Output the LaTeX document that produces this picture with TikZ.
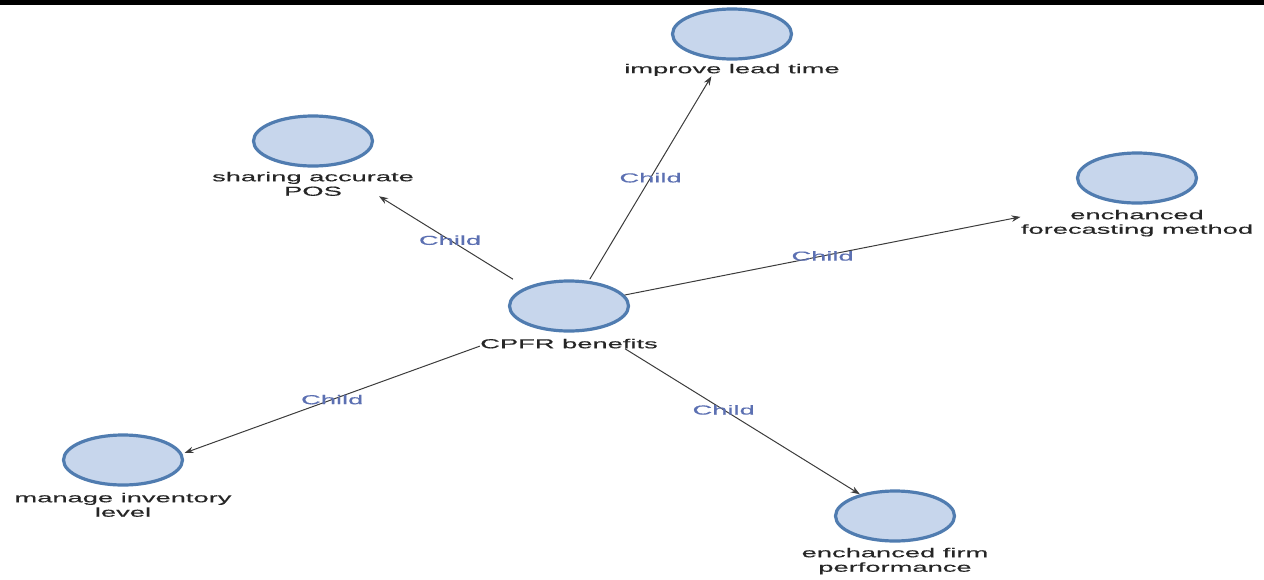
\documentclass[tikz,border=0pt]{standalone}
\usepackage{fontspec}
\newfontfamily\lblfont[FakeStretch=2.1,FakeBold=0.4]{Liberation Sans}
\usetikzlibrary{positioning,fit,calc,arrows.meta,shapes.geometric}
\definecolor{bubblefill}{RGB}{199,214,236}
\definecolor{bubbleline}{RGB}{80,124,176}
\definecolor{childblue}{RGB}{92,112,178}
\definecolor{edgegray}{RGB}{60,60,60}
\tikzset{
  bubble/.style={ellipse, draw=bubbleline, fill=bubblefill, line width=3.2pt,
    minimum width=119pt, minimum height=50pt, inner sep=0pt},
  bubblecap/.style={align=center, inner sep=0pt, text=black!85,
    font=\lblfont\fontsize{13}{14.5}\selectfont},
  group/.style={inner sep=0pt},
  link/.style={draw=edgegray, line width=1pt, -{Stealth[length=9pt,width=6.5pt]}},
  linklabel/.style={text=childblue, inner sep=1pt,
    font=\lblfont\fontsize{13}{14.5}\selectfont}
}
\begin{document}
\begin{tikzpicture}[x=1pt,y=-1pt]
  \useasboundingbox (0,0) rectangle (1264,579);
  \fill (0,0) rectangle (1264,4.5);

  % centre
  \node[bubble] (cpfr) at (569,306) {};
  \node[bubblecap, below=6pt of cpfr] (cpfrl) {CPFR benefits};
  \node[group, fit=(cpfr)(cpfrl)] (cpfrgrp) {};

  % children
  \node[bubble] (pos) at (313,141) {};
  \node[bubblecap, below=4pt of pos] (posl) {sharing accurate\\POS};
  \node[group, fit=(pos)(posl)] (posgrp) {};

  \node[bubble] (lead) at (732,34) {};
  \node[bubblecap, below=3pt of lead] (leadl) {improve lead time};
  \node[group, fit=(lead)(leadl)] (leadgrp) {};

  \node[bubble] (fcast) at (1137,178) {};
  \node[bubblecap, below=5pt of fcast] (fcastl) {enchanced\\forecasting method};
  \node[group, fit=(fcast)(fcastl)] (fcastgrp) {};

  \node[bubble] (inv) at (123,460) {};
  \node[bubblecap, below=6pt of inv] (invl) {manage inventory\\level};
  \node[group, fit=(inv)(invl)] (invgrp) {};

  \node[bubble] (firm) at (895,516) {};
  \node[bubblecap, below=5pt of firm] (firml) {enchanced firm\\performance};
  \node[group, fit=(firm)(firml)] (firmgrp) {};

  % links
  \draw[link] (cpfrgrp) -- (posgrp) node[linklabel, pos=.47] {Child};
  \draw[link] (cpfrgrp) -- (leadgrp) node[linklabel, pos=.5] {Child};
  \draw[link] (cpfr) -- (fcastgrp) node[linklabel, pos=.5] {Child};
  \draw[link] (cpfrgrp) -- ($(cpfrgrp)!.862!(invgrp)$) node[linklabel, pos=.5] {Child};
  \draw[link] (cpfrgrp) -- (firm) node[linklabel, pos=.42] {Child};
\end{tikzpicture}
\end{document}
